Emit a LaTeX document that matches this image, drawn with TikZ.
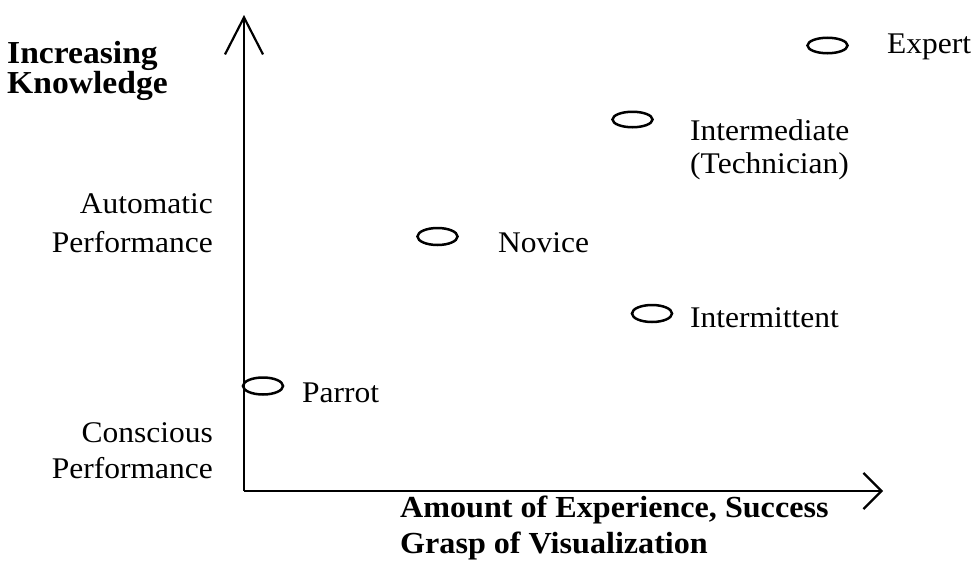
\documentclass[tikz,border=0pt]{standalone}
\usepackage{fontspec}
\setmainfont{Liberation Serif}[FakeStretch=1.05]
\usetikzlibrary{arrows.meta,shapes.geometric}
\begin{document}
\begin{tikzpicture}[x=1pt,y=-1pt,
  axis/.style={line width=2.5pt,line cap=butt},
  dot/.style={draw,ellipse,line width=2.5pt,minimum width=40pt,minimum height=17pt,inner sep=0pt},
  lbl/.style={font=\fontsize{30}{33}\selectfont,inner sep=0pt,anchor=base west},
  axlbl/.style={font=\fontsize{32}{30}\selectfont\bfseries,inner sep=0pt,align=left,anchor=base west},
  side/.style={font=\fontsize{30}{39}\selectfont,inner sep=0pt,align=right,anchor=base east}]
\useasboundingbox (0,0) rectangle (973,562);

% axes
\coordinate (origin) at (244,491);
\coordinate (ytip) at (244,15);
\coordinate (xtip) at (883,491);
\draw[axis,-{Straight Barb[length=37pt,width=38pt,line width=2.2pt]}] (origin) -- (ytip);
\draw[axis,-{Straight Barb[length=18pt,width=36pt,line width=2.2pt]}] (origin) -- (xtip);

% axis titles (anchored at the baseline of their last line)
\node[axlbl] (ytitle) at (7,93) {Increasing\\Knowledge};
\node[axlbl,font=\fontsize{30.6}{36}\selectfont\bfseries] (xtitle) at (400,553) {Amount of Experience, Success\\Grasp of Visualization};

% performance levels along the vertical axis
\node[side] (auto) at (213,252) {Automatic\\Performance};
\node[side,font=\fontsize{30}{36}\selectfont] (consc) at (213,478) {Conscious\\Performance};

% learner types
\node[dot] (parrot) at (263,386) {};
\node[lbl] (parrotlbl) at (302,402) {Parrot};
\node[dot] (novice) at (437.5,236.5) {};
\node[lbl] (novicelbl) at (498,252) {Novice};
\node[dot] (intermit) at (652,313.5) {};
\node[lbl] (intermitlbl) at (690,327) {Intermittent};
\node[dot,minimum height=15.5pt] (interm) at (632.5,119.5) {};
\node[lbl,align=left] (intermlbl) at (690,173) {Intermediate\\(Technician)};
\node[dot,minimum height=15.5pt] (expert) at (827.5,45.5) {};
\node[lbl] (expertlbl) at (887,53) {Expert};
\end{tikzpicture}
\end{document}
